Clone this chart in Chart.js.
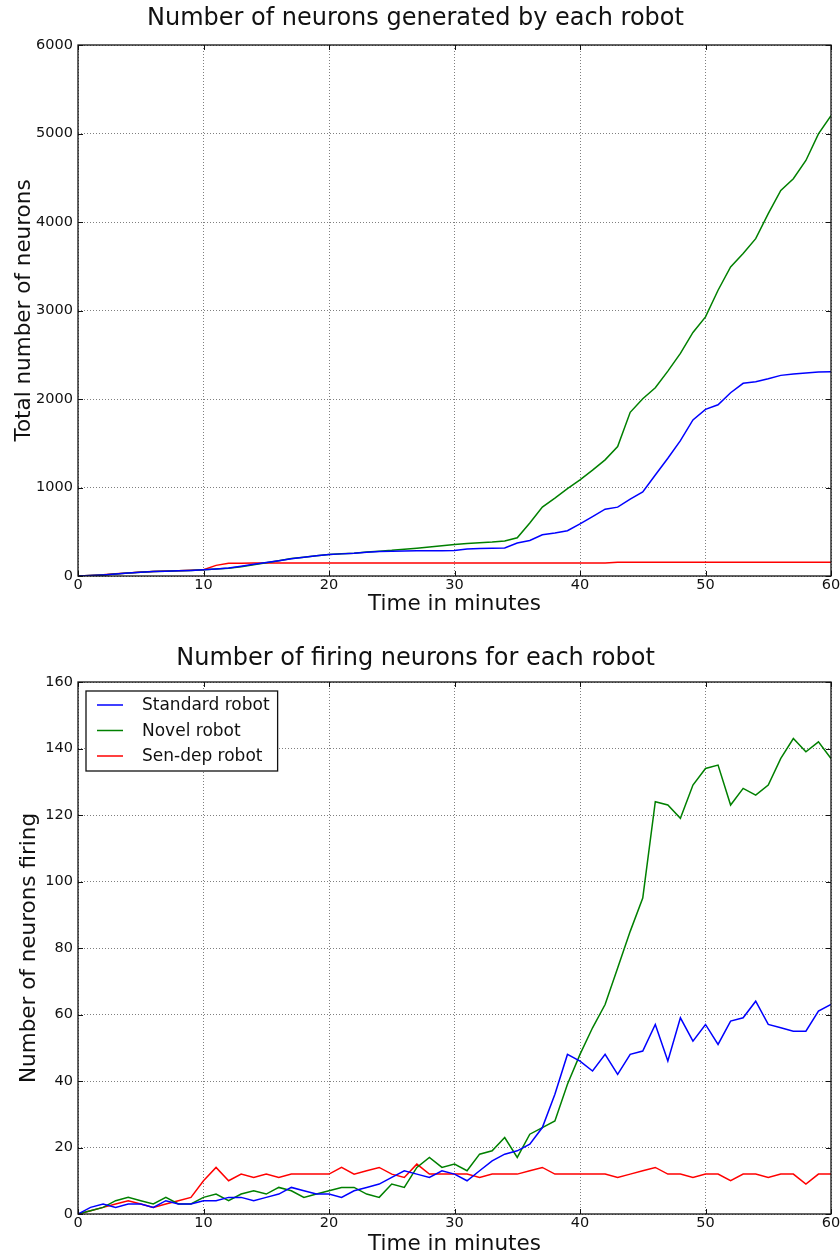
<!DOCTYPE html>
<html>

<head>
	<meta charset="utf-8">
	<meta name="viewport" content="width=device-width">
	<title>Neurons per robot</title>
	<style>
		html, body { margin: 0; padding: 0; background: #fff; overflow: hidden; }
		canvas { display: block; }
	</style>
</head>

<body>
	<script src="https://cdn.jsdelivr.net/npm/chart.js"></script>
	<canvas id="totalChart" width="840" height="627"></canvas>
	<canvas id="firingChart" width="840" height="640"></canvas>

	<script>
    // minutes since start
    var minutes = [0, 1, 2, 3, 4, 5, 6, 7, 8, 9, 10, 11, 12, 13, 14, 15, 16, 17, 18, 19, 20,
      21, 22, 23, 24, 25, 26, 27, 28, 29, 30, 31, 32, 33, 34, 35, 36, 37, 38, 39, 40,
      41, 42, 43, 44, 45, 46, 47, 48, 49, 50, 51, 52, 53, 54, 55, 56, 57, 58, 59, 60];

    var robotNames = ['Standard robot', 'Novel robot', 'Sen-dep robot'];
    var robotColors = ['#0000ff', '#008000', '#ff0000'];

    // total neurons generated
    var totalStandard = [0, 5, 12, 22, 33, 42, 50, 54, 58, 63, 70, 79, 90, 110, 133, 152, 172, 195, 212, 228, 243,
      250, 257, 268, 276, 280, 283, 284, 285, 286, 288, 306, 310, 313, 316, 372, 402, 466, 485, 511, 590,
      672, 755, 778, 868, 951, 1142, 1331, 1529, 1763, 1883, 1935, 2071, 2177, 2195, 2229, 2267, 2282, 2293, 2304, 2308];
    var totalNovel = [0, 5, 12, 22, 33, 42, 50, 54, 58, 63, 70, 78, 88, 105, 128, 150, 172, 197, 213, 228, 243,
      251, 258, 270, 281, 290, 303, 314, 327, 342, 355, 366, 375, 383, 395, 432, 600, 778, 880, 988, 1086,
      1196, 1312, 1462, 1849, 2003, 2127, 2315, 2515, 2752, 2928, 3229, 3492, 3643, 3812, 4094, 4357, 4489, 4695, 4996, 5202];
    var totalSenDep = [0, 7, 15, 25, 34, 44, 52, 56, 60, 65, 71, 120, 143, 145, 146, 146, 146, 146, 146, 146, 146,
      146, 146, 146, 146, 146, 146, 146, 146, 146, 146, 146, 146, 146, 146, 146, 146, 146, 146, 146, 146,
      146, 146, 155, 155, 155, 155, 155, 155, 155, 155, 155, 155, 155, 155, 155, 155, 155, 155, 155, 155];

    // neurons firing
    var firingStandard = [0, 2, 3, 2, 3, 3, 2, 4, 3, 3, 4, 4, 5, 5, 4, 5, 6, 8, 7, 6, 6,
      5, 7, 8, 9, 11, 13, 12, 11, 13, 12, 10, 13, 16, 18, 19, 21, 26, 36, 48, 46,
      43, 48, 42, 48, 49, 57, 46, 59, 52, 57, 51, 58, 59, 64, 57, 56, 55, 55, 61, 63];
    var firingNovel = [0, 1, 2, 4, 5, 4, 3, 5, 3, 3, 5, 6, 4, 6, 7, 6, 8, 7, 5, 6, 7,
      8, 8, 6, 5, 9, 8, 14, 17, 14, 15, 13, 18, 19, 23, 17, 24, 26, 28, 39, 48,
      56, 63, 74, 85, 95, 124, 123, 119, 129, 134, 135, 123, 128, 126, 129, 137, 143, 139, 142, 137];
    var firingSenDep = [0, 1, 2, 3, 4, 3, 2, 3, 4, 5, 10, 14, 10, 12, 11, 12, 11, 12, 12, 12, 12,
      14, 12, 13, 14, 12, 11, 15, 12, 12, 12, 12, 11, 12, 12, 12, 13, 14, 12, 12, 12,
      12, 12, 11, 12, 13, 14, 12, 12, 11, 12, 12, 10, 12, 12, 11, 12, 12, 9, 12, 12];

    var xTicks = [0, 10, 20, 30, 40, 50, 60];
    var totalTicks = [0, 1000, 2000, 3000, 4000, 5000, 6000];
    var firingTicks = [0, 20, 40, 60, 80, 100, 120, 140, 160];

    const FONT = '"DejaVu Sans", "Liberation Sans", sans-serif';

    function points(values) {
      return values.map(function (v, i) { return { x: minutes[i], y: v }; });
    }

    function makeDatasets(series) {
      return series.map(function (values, i) {
        return {
          label: robotNames[i],
          data: points(values),
          borderColor: robotColors[i],
          borderWidth: 1.5,
          pointRadius: 0,
          fill: false,
          tension: 0
        };
      });
    }

    // plain integer tick labels (no thousands separator)
    function plainLabel(value) {
      return String(value);
    }

    // box around the plot with small inward tick marks on all sides
    const framePlugin = {
      id: 'frame',
      afterDatasetsDraw(chart) {
        const ctx = chart.ctx;
        const a = chart.chartArea;
        const xs = chart.scales.x, ys = chart.scales.y;
        ctx.save();
        ctx.strokeStyle = '#111';
        ctx.lineWidth = 1;
        ctx.beginPath();
        xs.ticks.forEach(function (t) {
          const px = Math.round(xs.getPixelForValue(t.value)) + 0.5;
          ctx.moveTo(px, a.bottom); ctx.lineTo(px, a.bottom - 5);
          ctx.moveTo(px, a.top); ctx.lineTo(px, a.top + 5);
        });
        ys.ticks.forEach(function (t) {
          const py = Math.round(ys.getPixelForValue(t.value)) + 0.5;
          ctx.moveTo(a.left, py); ctx.lineTo(a.left + 5, py);
          ctx.moveTo(a.right, py); ctx.lineTo(a.right - 5, py);
        });
        ctx.stroke();
        ctx.lineWidth = 1.3;
        ctx.strokeRect(a.left, a.top, a.right - a.left, a.bottom - a.top);
        ctx.restore();
      }
    };

    // legend drawn inside the plot, upper left
    const boxLegend = {
      id: 'boxLegend',
      afterDraw(chart, args, opts) {
        if (!opts.display) return;
        const ctx = chart.ctx;
        const a = chart.chartArea;
        const sets = chart.data.datasets;
        const bx = a.left + 8, by = a.top + 9;
        const rowH = 25.5;
        ctx.save();
        ctx.font = '17px ' + FONT;
        let textW = 0;
        sets.forEach(function (d) { textW = Math.max(textW, ctx.measureText(d.label).width); });
        const bw = 56 + textW + 8, bh = 14 + rowH * (sets.length - 1) + 15;
        ctx.fillStyle = '#fff';
        ctx.fillRect(bx, by, bw, bh);
        ctx.strokeStyle = '#111';
        ctx.lineWidth = 1.3;
        ctx.strokeRect(bx, by, bw, bh);
        ctx.textBaseline = 'middle';
        sets.forEach(function (d, i) {
          const cy = by + 14 + rowH * i;
          ctx.strokeStyle = d.borderColor;
          ctx.lineWidth = 1.5;
          ctx.beginPath();
          ctx.moveTo(bx + 11, cy); ctx.lineTo(bx + 37, cy);
          ctx.stroke();
          ctx.fillStyle = '#111';
          ctx.fillText(d.label, bx + 56, cy + 1);
        });
        ctx.restore();
      }
    };

    function makeChart(id, cfg) {
      const ctx = document.getElementById(id).getContext('2d');
      return new Chart(ctx, {
        type: 'line',
        data: { datasets: makeDatasets(cfg.series) },
        plugins: [framePlugin, boxLegend],
        options: {
          responsive: false,
          animation: false,
          layout: { padding: { left: 0, right: 9, top: 0, bottom: 0 } },
          plugins: {
            legend: { display: false },
            tooltip: { enabled: false },
            title: {
              display: true,
              text: cfg.title,
              color: '#111',
              font: { family: FONT, size: 24, weight: 'normal' },
              padding: cfg.titlePad
            },
            boxLegend: { display: cfg.legend }
          },
          scales: {
            x: {
              type: 'linear',
              min: 0,
              max: 60,
              afterBuildTicks(s) { s.ticks = xTicks.map(function (v) { return { value: v }; }); },
              afterFit(s) {
                s.height = cfg.xHeight;
                s.paddingLeft = 0; s.paddingRight = 0;
              },
              ticks: { color: '#111', padding: 1, callback: plainLabel, font: { family: FONT, size: 14.5 } },
              grid: { color: 'rgba(0,0,0,0.5)', lineWidth: 1, drawTicks: false },
              border: { display: false, dash: [1, 2] },
              title: {
                display: true,
                text: 'Time in minutes',
                color: '#111',
                font: { family: FONT, size: 21.5 },
                padding: { top: 0, bottom: cfg.xTitleBottom }
              }
            },
            y: {
              min: 0,
              max: cfg.yTicks[cfg.yTicks.length - 1],
              afterBuildTicks(s) { s.ticks = cfg.yTicks.map(function (v) { return { value: v }; }); },
              afterFit(s) {
                s.width = 78;
                s.paddingTop = 0; s.paddingBottom = 0;
              },
              ticks: { color: '#111', padding: 5, callback: plainLabel, font: { family: FONT, size: 14.5 } },
              grid: { color: 'rgba(0,0,0,0.5)', lineWidth: 1, drawTicks: false },
              border: { display: false, dash: [1, 2] },
              title: {
                display: true,
                text: cfg.yTitle,
                color: '#111',
                font: { family: FONT, size: 21.5 },
                padding: { top: cfg.yTitleTop, bottom: 0 }
              }
            }
          }
        }
      });
    }

    makeChart('totalChart', {
      title: 'Number of neurons generated by each robot',
      titlePad: { top: 4.3, bottom: 11.9 },
      series: [totalStandard, totalNovel, totalSenDep],
      yTicks: totalTicks,
      yTitle: 'Total number of neurons',
      yTitleTop: 11.7,
      xHeight: 51,
      xTitleBottom: 9.6,
      legend: false
    });

    makeChart('firingChart', {
      title: 'Number of firing neurons for each robot',
      titlePad: { top: 17.3, bottom: 8.9 },
      series: [firingStandard, firingNovel, firingSenDep],
      yTicks: firingTicks,
      yTitle: 'Number of neurons firing',
      yTitleTop: 16.4,
      xHeight: 53,
      xTitleBottom: 9.5,
      legend: true
    });
	</script>

</body>

</html>
